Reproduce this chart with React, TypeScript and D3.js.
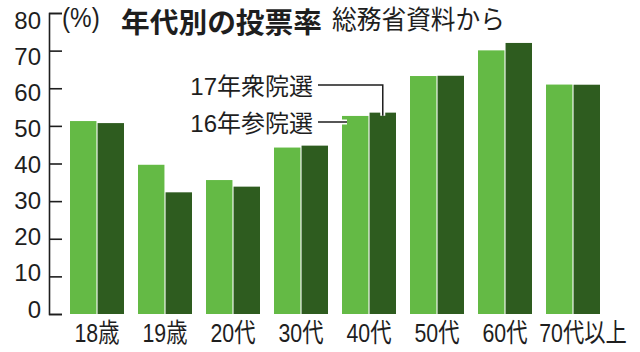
import React, { useRef, useEffect } from 'react';
import * as d3 from 'd3';

const ageGroups = ['18歳', '19歳', '20代', '30代', '40代', '50代', '60代', '70代以上'];
const upper2016 = [51.28, 39.66, 35.6, 44.24, 52.64, 63.25, 70.07, 60.98];
const lower2017 = [50.74, 32.34, 33.85, 44.75, 53.52, 63.32, 72.04, 60.94];
const seriesNames = ['16年参院選', '17年衆院選'];
const yTicks = [0, 10, 20, 30, 40, 50, 60, 70, 80];

const LIGHT = '#64ba45';
const DARK = '#2e5c1f';
const INK = '#1e1e1e';
const FONT = '"Liberation Sans", "Noto Sans CJK JP", sans-serif';
const JP = '"Noto Sans CJK JP", sans-serif';

const App = () => {
  const ref = useRef<SVGSVGElement>(null);

  useEffect(() => {
    const svg = d3.select(ref.current);
    svg.selectAll('*').remove();

    // Scales
    const y = d3.scaleLinear().domain([0, 80]).range([314, 13]);
    // the printed tick numbers sit on a slightly tighter grid than the ticks
    const yLabel = d3.scaleLinear().domain([0, 80]).range([309, 20]);
    const x = d3.scaleBand<string>()
      .domain(ageGroups)
      .range([63, 607])
      .paddingInner(0.206)
      .paddingOuter(0.103);
    const xInner = d3.scaleBand<string>()
      .domain(seriesNames)
      .range([0, x.bandwidth()])
      .paddingInner(0.04);

    const rows = ageGroups.map((g, i) => ({ g, v16: upper2016[i], v17: lower2017[i] }));

    // Bars
    const groups = svg.append('g')
      .selectAll('g')
      .data(rows)
      .join('g')
      .attr('transform', d => `translate(${x(d.g)},0)`);

    groups.append('rect')
      .attr('x', xInner(seriesNames[0])!)
      .attr('width', xInner.bandwidth())
      .attr('y', d => y(d.v16))
      .attr('height', d => y(0) - y(d.v16))
      .attr('fill', LIGHT);

    groups.append('rect')
      .attr('x', xInner(seriesNames[1])!)
      .attr('width', xInner.bandwidth())
      .attr('y', d => y(d.v17))
      .attr('height', d => y(0) - y(d.v17))
      .attr('fill', DARK);

    // Axis (ticks point inward, bracket at both ends)
    const axis = svg.append('g')
      .attr('transform', 'translate(49,0)')
      .call(d3.axisLeft(y).tickValues(yTicks).tickSizeInner(-13).tickSizeOuter(-13).tickFormat(() => ''));
    axis.selectAll('path, line').attr('stroke', INK).attr('stroke-width', 1.6);

    svg.append('g')
      .selectAll('text')
      .data(yTicks)
      .join('text')
      .attr('x', 41)
      .attr('y', d => yLabel(d))
      .attr('text-anchor', 'end')
      .attr('dominant-baseline', 'central')
      .attr('font-family', FONT)
      .attr('font-size', 24)
      .attr('fill', INK)
      .text(d => d);

    // Category labels (condensed); the long last one is nudged right
    svg.append('g')
      .selectAll('text')
      .data(ageGroups)
      .join('text')
      .attr('transform', (d, i) => {
        const shift = i === ageGroups.length - 1 ? 10 : 0;
        return `translate(${x(d)! + x.bandwidth() / 2 + shift},333) scale(0.82,1)`;
      })
      .attr('text-anchor', 'middle')
      .attr('dominant-baseline', 'central')
      .attr('font-family', FONT)
      .attr('font-size', 26)
      .attr('fill', INK)
      .text(d => d);

    // Title block
    svg.append('text')
      .attr('transform', 'translate(62,18) scale(0.9,1)')
      .attr('dominant-baseline', 'central')
      .attr('font-family', FONT).attr('font-size', 27).attr('fill', INK)
      .text('(%)');
    svg.append('text')
      .attr('x', 121).attr('y', 21)
      .attr('dominant-baseline', 'central')
      .attr('font-family', JP).attr('font-size', 28).attr('font-weight', 'bold').attr('fill', INK)
      .attr('textLength', 201).attr('lengthAdjust', 'spacingAndGlyphs')
      .text('年代別の投票率');
    svg.append('text')
      .attr('x', 332).attr('y', 17)
      .attr('dominant-baseline', 'central')
      .attr('font-family', JP).attr('font-size', 26).attr('fill', INK)
      .attr('textLength', 173).attr('lengthAdjust', 'spacingAndGlyphs')
      .text('総務省資料から');

    // Leader labels pointing at the 40代 bars
    const key = '40代';
    const i40 = ageGroups.indexOf(key);
    const xDark = x(key)! + xInner(seriesNames[1])! + xInner.bandwidth() / 2;
    const xLight = x(key)! + 5;
    const leaders = [
      { label: seriesNames[1], ty: 86, pts: [[318, 85], [xDark, 85], [xDark, y(lower2017[i40]) + 3]] },
      { label: seriesNames[0], ty: 123, pts: [[318, 122], [xLight, 122]] },
    ];
    const line = d3.line();
    leaders.forEach(l => {
      svg.append('path').attr('d', line(l.pts as [number, number][])!)
        .attr('fill', 'none').attr('stroke', '#fff').attr('stroke-width', 5);
      svg.append('path').attr('d', line(l.pts as [number, number][])!)
        .attr('fill', 'none').attr('stroke', INK).attr('stroke-width', 1.5);
      svg.append('text')
        .attr('x', 313).attr('y', l.ty)
        .attr('text-anchor', 'end')
        .attr('dominant-baseline', 'central')
        .attr('font-family', FONT).attr('font-size', 24).attr('fill', INK)
        .text(l.label);
    });
  }, []);

  return (
    <svg ref={ref} width={640} height={352}
      style={{ position: 'absolute', left: 0, top: 0, background: '#fff' }} />
  );
};

export default App;
